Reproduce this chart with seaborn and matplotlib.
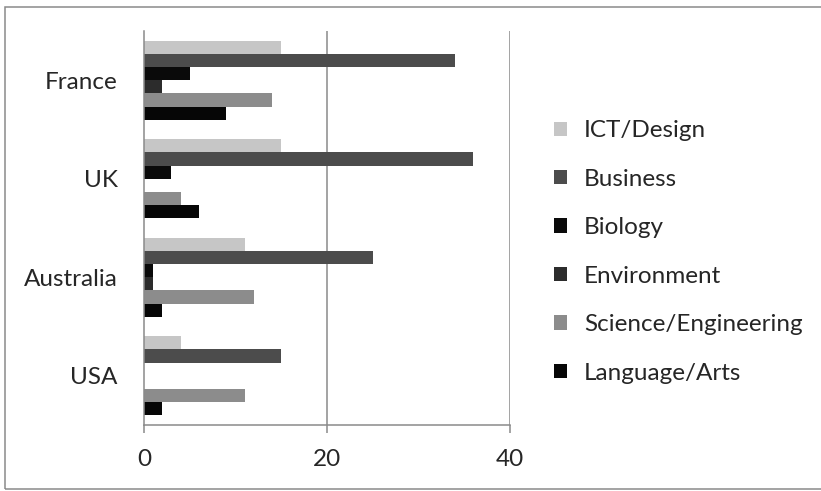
import pandas as pd
import matplotlib
matplotlib.use("Agg")
import matplotlib.pyplot as plt
import seaborn as sns
from matplotlib.patches import Rectangle

# data
countries = ['France', 'UK', 'Australia', 'USA']
fields = ['ICT/Design', 'Business', 'Biology', 'Environment', 'Science/Engineering', 'Language/Arts']
ict = [15, 15, 11, 4]
business = [34, 36, 25, 15]
biology = [5, 3, 1, 0]
environment = [2, 0, 1, 0]
science = [14, 4, 12, 11]
language = [9, 6, 2, 2]
colors = ['#c6c6c6', '#4c4c4c', '#0a0a0a', '#2c2c2c', '#8c8c8c', '#060606']

series = [ict, business, biology, environment, science, language]
rows = []
for f, vals in zip(fields, series):
    for c, v in zip(countries, vals):
        rows.append({'country': c, 'field': f, 'value': v})
df = pd.DataFrame(rows)

sns.set_style('white')
plt.rcParams['font.family'] = ['Lato', 'DejaVu Sans']

fig = plt.figure(figsize=(8.21, 4.91), dpi=100)
ax = fig.add_axes([144/821, 1-425/491, (510-144)/821, (425-31)/491])

sns.barplot(data=df, x='value', y='country', hue='field', orient='h',
            order=countries, hue_order=fields, palette=colors, width=0.8,
            saturation=1, linewidth=0, ax=ax)

ax.set_xlim(0, 40)
ax.set_ylim(3.5, -0.5)
ax.set_xticks([0, 20, 40])
ax.set_xlabel('')
ax.set_ylabel('')
ax.grid(False)
for xv in [20, 40]:
    ax.axvline(xv, color='#8a8a8a', lw=1.1, zorder=0)

for s in ['top', 'right']:
    ax.spines[s].set_visible(False)
for s in ['left', 'bottom']:
    ax.spines[s].set_color('#8a8a8a')
    ax.spines[s].set_linewidth(1.1)

fs = 17.5
ax.set_yticks([-0.5, 0.5, 1.5, 2.5, 3.5], minor=True)
ax.tick_params(axis='y', which='major', length=0, pad=19, labelsize=fs)
ax.tick_params(axis='y', which='minor', length=6, color='#8a8a8a', width=1.1, direction='out')
ax.tick_params(axis='x', which='major', length=6, color='#8a8a8a', width=1.1, direction='out', pad=11, labelsize=fs)
ax.tick_params(left=True, bottom=True)

handles, labels = ax.get_legend_handles_labels()
ax.legend(handles, labels, loc='center left', bbox_to_anchor=(554/821, 1-252/491),
          bbox_transform=fig.transFigure, frameon=False, fontsize=fs,
          labelspacing=1.13, handlelength=0.53, handleheight=0.53, handletextpad=0.7,
          borderpad=0, borderaxespad=0)

fig.patches.append(Rectangle((5/821, 2/491), 820/821, 482/491, transform=fig.transFigure,
                             fill=False, edgecolor='#8a8a8a', lw=1.1))

fig.savefig('out.png', dpi=100)
